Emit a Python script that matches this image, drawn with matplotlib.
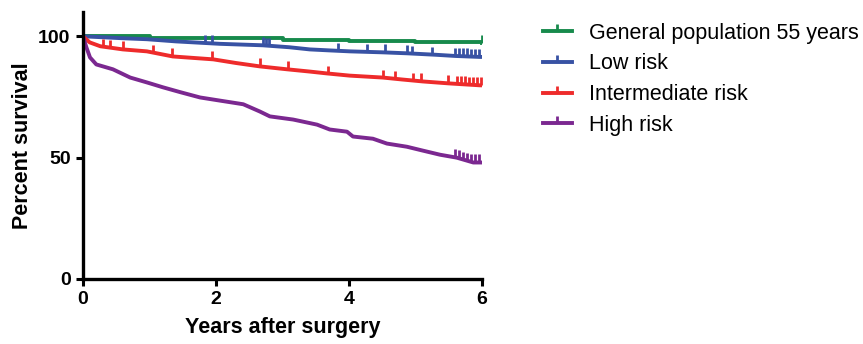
import numpy as np
import matplotlib
matplotlib.use("Agg")
import matplotlib.pyplot as plt
from matplotlib.path import Path
from matplotlib.lines import Line2D

plt.rcParams['font.family'] = ['Liberation Sans', 'DejaVu Sans']

# points (years, percent survival)
gen_t = [0, 1.0, 2.0, 3.0, 4.0, 5.0, 6.0]
gen_s = [100, 99.5, 99.1, 98.6, 98.1, 97.6, 97.1]

low_t = [0, 0.3, 0.6, 0.96, 1.4, 2.06, 2.7, 3.1, 3.41, 3.7, 4.01, 4.5, 4.87, 5.3, 5.6, 5.97, 6.0]
low_s = [100, 99.6, 99.2, 98.8, 97.9, 96.9, 96.3, 95.5, 94.6, 94.2, 93.8, 93.4, 93.0, 92.4, 91.9, 91.5, 91.5]

int_t = [0, 0.1, 0.26, 0.6, 0.96, 1.35, 1.96, 2.3, 2.66, 3.07, 3.4, 3.67, 4.01, 4.51, 4.8, 5.11, 5.5, 5.97, 6.0]
int_s = [100, 97.5, 95.9, 94.6, 93.8, 91.7, 90.5, 89.0, 87.6, 86.4, 85.5, 84.7, 83.8, 83.0, 82.2, 81.4, 80.6, 79.8, 79.8]

high_t = [0, 0.05, 0.105, 0.2, 0.45, 0.71, 0.96, 1.2, 1.46, 1.76, 2.06, 2.41, 2.66, 2.81, 3.16,
          3.52, 3.71, 3.97, 4.06, 4.36, 4.57, 4.87, 5.11, 5.37, 5.62, 5.87, 6.0]
high_s = [100, 95.5, 91.3, 88.4, 86.4, 83.0, 81.0, 79.0, 77.0, 74.8, 73.5, 72.0, 69.0, 67.0, 65.7,
          63.6, 61.6, 60.7, 58.7, 57.8, 55.8, 54.5, 52.9, 51.2, 50.0, 48.0, 48.0]

# censoring times
gen_c = [6.0]
low_c = [1.83, 1.94, 2.7, 2.75, 2.8, 3.83, 4.27, 4.54, 4.87, 4.95, 5.25, 5.6, 5.66, 5.72, 5.78, 5.84, 5.9, 5.96]
int_c = [0.3, 0.4, 0.6, 1.05, 1.34, 1.94, 2.66, 3.08, 3.68, 4.51, 4.69, 4.96, 5.09, 5.49,
         5.62, 5.68, 5.74, 5.8, 5.86, 5.92, 5.98]
high_c = [5.6, 5.66, 5.72, 5.78, 5.84, 5.9, 5.96]

labels = ["General population 55 years", "Low risk", "Intermediate risk", "High risk"]
colors = ["#178a4c", "#3852a4", "#ee2b2b", "#7b2890"]

tick = Path([(0, 0), (0, 1)], [Path.MOVETO, Path.LINETO])

fig = plt.figure(figsize=(8.63, 3.44), dpi=100)
ax = fig.add_axes([0.0962, 0.189, 0.4623, 0.776])

series = [(gen_t, gen_s, gen_c), (low_t, low_s, low_c), (int_t, int_s, int_c), (high_t, high_s, high_c)]
for i, ((t, s, c), col) in enumerate(zip(series, colors)):
    if i == 0:
        ax.step(t, s, where='post', color=col, lw=2.8)
        cy = np.array(s)[np.searchsorted(t, c, side='right') - 1]
    else:
        ax.plot(t, s, color=col, lw=2.8, solid_joinstyle='round')
        cy = np.interp(c, t, s)
    ax.plot(c, cy, ls='none', marker=tick, ms=12, mew=2, color=col)

ax.set_xlim(0, 6)
ax.set_ylim(0, 110)
ax.set_xticks([0, 2, 4, 6])
ax.set_yticks([0, 50, 100])
for sp in ['top', 'right']:
    ax.spines[sp].set_visible(False)
for sp in ['left', 'bottom']:
    ax.spines[sp].set_linewidth(2.4)
ax.tick_params(width=2.2, length=5, labelsize=14, pad=4)
for lab in ax.get_xticklabels() + ax.get_yticklabels():
    lab.set_fontweight('bold')
ax.set_xlabel("Years after surgery", fontsize=15.5, fontweight='bold', labelpad=6)
ax.set_ylabel("Percent survival", fontsize=15.5, fontweight='bold', labelpad=4)

handles = [Line2D([], [], color=col, lw=2.8, marker=tick, ms=10, mew=2) for col in colors]
fig.legend(handles, labels, loc='upper left', bbox_to_anchor=(0.619, 0.959), frameon=False,
           fontsize=15.5, handlelength=1.35, handletextpad=0.8, labelspacing=0.45, borderaxespad=0)

fig.savefig("out.png", dpi=100)
